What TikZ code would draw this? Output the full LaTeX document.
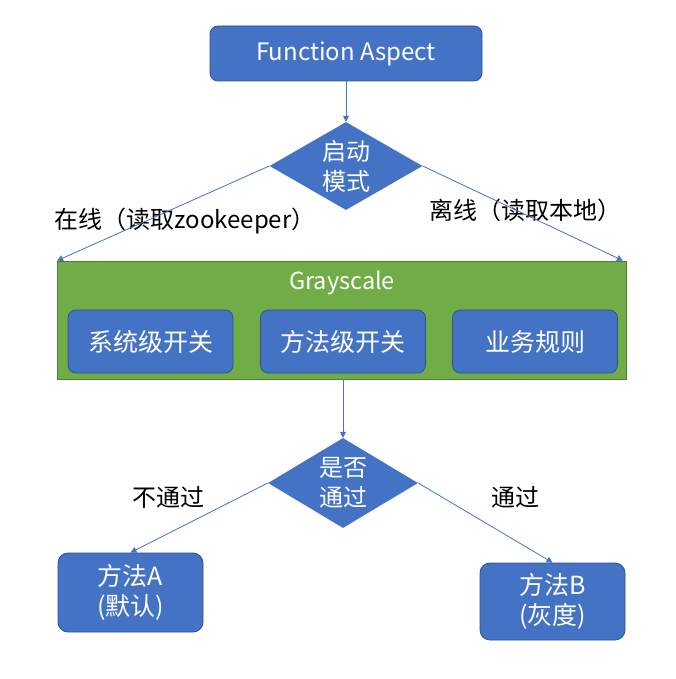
\documentclass[tikz,border=0pt]{standalone}
\usepackage{fontspec}
\setmainfont{Noto Sans CJK SC}
\usetikzlibrary{shapes.geometric,arrows.meta}
\definecolor{bfill}{HTML}{4472C4}
\definecolor{bdraw}{HTML}{2F528F}
\definecolor{gfill}{HTML}{70AD47}
\definecolor{gdraw}{HTML}{507E32}
\tikzset{
  bbox/.style={draw=bdraw, fill=bfill, line width=0.8pt, rounded corners=8pt, text=white, align=center, inner sep=0pt, font=\fontsize{24}{29}\selectfont},
  dia/.style={diamond, fill=bfill, draw=none, minimum width=153pt, minimum height=88pt, inner sep=0pt},
  dtext/.style={text=white, align=center, font=\fontsize{24}{30}\selectfont},
  lbl/.style={text=black, font=\fontsize{24}{28}\selectfont, inner sep=0pt},
  conn/.style={draw=bfill, line width=0.8pt, -{Triangle[length=6pt,width=6pt]}},
}
\begin{document}
\begin{tikzpicture}[x=1pt,y=-1pt]
\useasboundingbox (0,0) rectangle (675,679);
\node[bbox, minimum width=272pt, minimum height=55pt] (top) at (346,53.5) {Function Aspect};
\node[dia, label={[dtext]center:{启动\\模式}}] (d1) at (346,166) {};
\node[draw=gdraw, fill=gfill, line width=0.8pt, minimum width=569pt, minimum height=118pt, inner sep=0pt] (green) at (342,320) {};
\node[text=white, font=\fontsize{23.5}{28}\selectfont, inner sep=0pt] (gtitle) at (342,283) {Grayscale};
\node[bbox, minimum width=165pt, minimum height=63pt, font=\fontsize{25}{29}\selectfont] (s1) at (150.5,341.5) {系统级开关};
\node[bbox, minimum width=165pt, minimum height=63pt, font=\fontsize{25}{29}\selectfont] (s2) at (343,341.5) {方法级开关};
\node[bbox, minimum width=165pt, minimum height=63pt, font=\fontsize{25}{29}\selectfont] (s3) at (535,341.5) {业务规则};
\node[dia, minimum width=150pt, minimum height=90pt, label={[dtext]center:{是否\\通过}}] (d2) at (343,483) {};
\node[bbox, rounded corners=10pt, minimum width=145pt, minimum height=79pt, font=\fontsize{25}{30}\selectfont] (ba) at (130.5,592.5) {方法A\\(默认)};
\node[bbox, rounded corners=10pt, minimum width=145pt, minimum height=77pt, font=\fontsize{25}{30}\selectfont] (bb) at (552.5,601.5) {方法B\\(灰度)};
\node[lbl] (l1) at (185,221) {在线（读取zookeeper）};
\node[lbl] (l2) at (525,210) {离线（读取本地）};
\node[lbl] (l3) at (168,497) {不通过};
\node[lbl] (l4) at (515,497) {通过};
\draw[conn] (top.south) -- (d1.north);
\draw[conn] (d1.west) -- (green.north west);
\draw[conn] (d1.east) -- ([xshift=-4pt]green.north east);
\draw[conn] (green.south -| d2.north) -- (d2.north);
\draw[conn] (d2.west) -- (ba.north);
\draw[conn] (d2.east) -- (bb.north);
\end{tikzpicture}
\end{document}
